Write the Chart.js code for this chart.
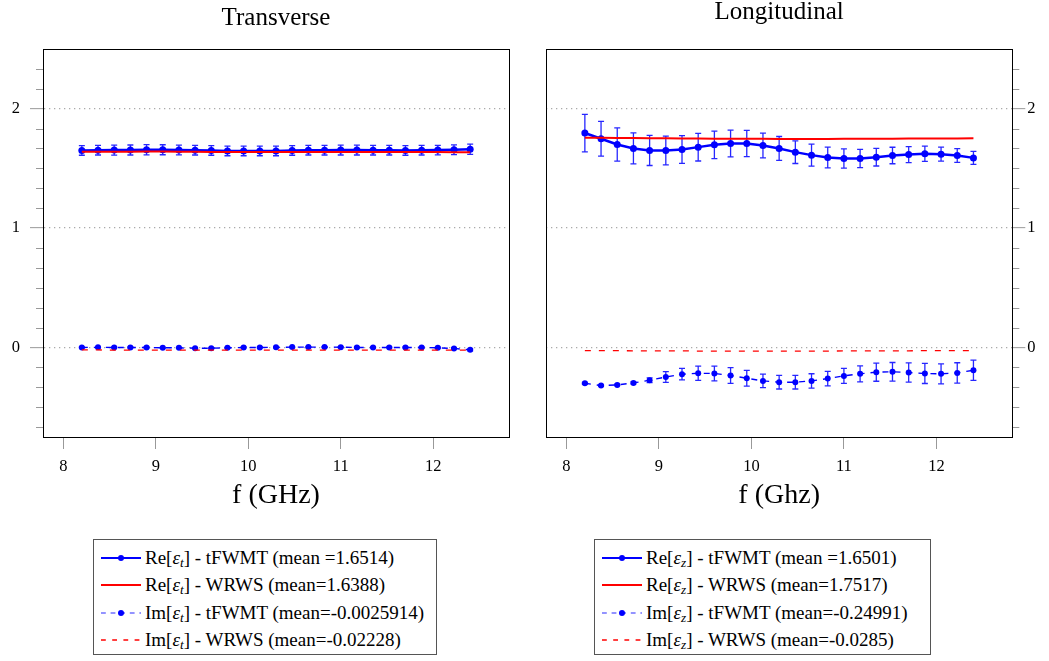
<!DOCTYPE html>
<html>
<head>
<meta charset="utf-8">
<script src="https://cdn.jsdelivr.net/npm/chart.js@4.4.0/dist/chart.umd.min.js"></script>
<style>
  body { margin: 0; background: #fff; width: 1049px; height: 661px; position: relative; overflow: hidden; font-family: "Liberation Serif", "Times New Roman", serif; }
  canvas { position: absolute; top: 0; }
  #left { left: 0; }
  #right { left: 525px; }
  .legend { position: absolute; top: 539px; height: 116px; border: 1px solid #555; box-sizing: border-box; padding-top: 4px; font-size: 19px; color: #000; }
  .legend .row { height: 27.5px; display: flex; align-items: center; padding-left: 6px; white-space: nowrap; }
  .legend svg { margin-right: 3px; flex: none; }
  .legend sub { font-size: 0.7em; vertical-align: -0.25em; line-height: 0; }
  #legLeft { left: 93px; width: 344px; }
  #legRight { left: 594px; width: 337px; }
</style>
</head>
<body>
<canvas id="left" width="525" height="520"></canvas>
<canvas id="right" width="524" height="520"></canvas>
<div class="legend" id="legLeft"></div>
<div class="legend" id="legRight"></div>
<script>
// frequency points (GHz)
const freq = [8.2, 8.375, 8.55, 8.725, 8.9, 9.075, 9.25, 9.425, 9.6, 9.775, 9.95, 10.125, 10.3,
              10.475, 10.65, 10.825, 11.0, 11.175, 11.35, 11.525, 11.7, 11.875, 12.05, 12.225, 12.4];

// transverse
const reT_tfwmt = [1.650, 1.652, 1.653, 1.654, 1.656, 1.656, 1.654, 1.652, 1.650, 1.646, 1.646, 1.646, 1.646,
                   1.650, 1.652, 1.652, 1.653, 1.653, 1.652, 1.652, 1.650, 1.652, 1.653, 1.656, 1.661];
const reT_tfwmtErr = [0.040, 0.040, 0.042, 0.042, 0.043, 0.042, 0.041, 0.040, 0.040, 0.040, 0.040, 0.040, 0.040,
                      0.040, 0.040, 0.040, 0.041, 0.041, 0.040, 0.040, 0.040, 0.040, 0.040, 0.041, 0.043];
const reT_wrws = [1.640, 1.640, 1.640, 1.640, 1.641, 1.641, 1.640, 1.639, 1.638, 1.638, 1.637, 1.637, 1.637,
                  1.638, 1.638, 1.638, 1.638, 1.638, 1.638, 1.638, 1.638, 1.637, 1.637, 1.636, 1.635];
const imT_tfwmt = [0.000, 0.001, 0.000, 0.000, 0.000, -0.003, -0.003, -0.006, -0.006, -0.003, 0.000, 0.000, 0.001,
                   0.003, 0.003, 0.003, 0.002, 0.000, 0.000, 0.000, 0.000, 0.000, -0.003, -0.008, -0.020];
const imT_tfwmtErr = [0.004, 0.004, 0.004, 0.004, 0.004, 0.004, 0.004, 0.005, 0.005, 0.004, 0.004, 0.004, 0.004,
                      0.004, 0.004, 0.004, 0.004, 0.004, 0.004, 0.004, 0.004, 0.005, 0.005, 0.006, 0.008];
const imT_wrws = [-0.021, -0.021, -0.022, -0.022, -0.022, -0.022, -0.023, -0.023, -0.023, -0.023, -0.022, -0.022, -0.022,
                  -0.022, -0.022, -0.022, -0.022, -0.022, -0.022, -0.022, -0.023, -0.023, -0.023, -0.023, -0.023];

// longitudinal
const reL_tfwmt = [1.796, 1.748, 1.700, 1.667, 1.650, 1.650, 1.658, 1.678, 1.697, 1.709, 1.709, 1.692, 1.667,
                   1.636, 1.611, 1.591, 1.583, 1.583, 1.594, 1.608, 1.616, 1.622, 1.619, 1.608, 1.588];
const reL_tfwmtErr = [0.157, 0.146, 0.139, 0.130, 0.126, 0.120, 0.116, 0.116, 0.115, 0.112, 0.110, 0.104, 0.100,
                      0.095, 0.092, 0.087, 0.081, 0.077, 0.074, 0.069, 0.067, 0.064, 0.059, 0.057, 0.055];
const reL_wrws = [1.757, 1.756, 1.755, 1.754, 1.753, 1.752, 1.751, 1.750, 1.749, 1.749, 1.748, 1.748, 1.747,
                  1.747, 1.747, 1.747, 1.748, 1.748, 1.748, 1.749, 1.750, 1.750, 1.751, 1.751, 1.752];
const imL_tfwmt = [-0.300, -0.319, -0.314, -0.297, -0.275, -0.247, -0.224, -0.216, -0.218, -0.235, -0.258, -0.280, -0.291,
                   -0.291, -0.280, -0.261, -0.238, -0.221, -0.207, -0.204, -0.210, -0.218, -0.221, -0.213, -0.191];
const imL_tfwmtErr = [0.008, 0.006, 0.006, 0.008, 0.020, 0.045, 0.048, 0.059, 0.062, 0.066, 0.066, 0.057, 0.057,
                      0.057, 0.060, 0.060, 0.063, 0.067, 0.076, 0.078, 0.081, 0.084, 0.084, 0.085, 0.085];
const imL_wrws = [-0.026, -0.027, -0.027, -0.028, -0.028, -0.029, -0.029, -0.030, -0.030, -0.030, -0.031, -0.031, -0.031,
                  -0.031, -0.030, -0.030, -0.029, -0.029, -0.028, -0.028, -0.028, -0.027, -0.027, -0.026, -0.026];

const xTicks = [8, 9, 10, 11, 12];
const yTicks = [0, 1, 2];
const yMinorTicks = [-4, -3, -2, -1, 1, 2, 3, 4, 5, 7, 8, 9, 10, 11, 13, 14].map(k => k / 6);

const labelsT = ['Re[ε_t] - tFWMT (mean =1.6514)', 'Re[ε_t] - WRWS (mean=1.6388)',
                 'Im[ε_t] - tFWMT (mean=-0.0025914)', 'Im[ε_t] - WRWS (mean=-0.02228)'];
const labelsL = ['Re[ε_z] - tFWMT (mean =1.6501)', 'Re[ε_z] - WRWS (mean=1.7517)',
                 'Im[ε_z] - tFWMT (mean=-0.24991)', 'Im[ε_z] - WRWS (mean=-0.0285)'];

const FONT = '"Liberation Serif", "Times New Roman", serif';
const pts = ys => ys.map((y, i) => ({ x: freq[i], y: y }));

// vertical error bars with caps
const errorBarPlugin = {
  id: 'errorBars',
  afterDatasetDraw(chart, args) {
    const ds = chart.data.datasets[args.index];
    if (!ds.errorBars) return;
    const { ctx, scales: { x, y } } = chart;
    ctx.save();
    ctx.strokeStyle = 'rgba(0,0,255,0.85)';
    ctx.lineWidth = 1.3;
    ds.data.forEach((p, i) => {
      const e = ds.errorBars[i];
      const px = x.getPixelForValue(p.x);
      const top = y.getPixelForValue(p.y + e);
      const bot = y.getPixelForValue(p.y - e);
      ctx.beginPath();
      ctx.moveTo(px, top); ctx.lineTo(px, bot);
      ctx.moveTo(px - 3, top); ctx.lineTo(px + 3, top);
      ctx.moveTo(px - 3, bot); ctx.lineTo(px + 3, bot);
      ctx.stroke();
    });
    ctx.restore();
  }
};

// box around plot, minor y ticks, panel title
const framePlugin = {
  id: 'frame',
  afterDraw(chart, args, opts) {
    const { ctx, chartArea: a, scales: { y } } = chart;
    ctx.save();
    ctx.strokeStyle = '#999';
    ctx.lineWidth = 1;
    yMinorTicks.forEach(v => {
      const py = Math.round(y.getPixelForValue(v)) + 0.5;
      ctx.beginPath();
      if (opts.side === 'left') { ctx.moveTo(a.left - 7, py); ctx.lineTo(a.left, py); }
      else { ctx.moveTo(a.right, py); ctx.lineTo(a.right + 7, py); }
      ctx.stroke();
    });
    ctx.strokeStyle = '#000';
    ctx.strokeRect(Math.round(a.left) + 0.5, Math.round(a.top) + 0.5, Math.round(a.width), Math.round(a.height));
    ctx.fillStyle = '#000';
    ctx.font = '25px ' + FONT;
    ctx.textAlign = 'center';
    ctx.textBaseline = 'middle';
    ctx.fillText(opts.text, (a.left + a.right) / 2, opts.y);
    ctx.restore();
  }
};

function makeChart(id, p) {
  const datasets = [
    { label: p.labels[0], data: pts(p.reTf), errorBars: p.reTfErr, borderColor: '#0000ff', borderWidth: 2.5,
      pointRadius: 3.5, pointBackgroundColor: '#0000ff', pointBorderWidth: 0, order: 3 },
    { label: p.labels[1], data: pts(p.reW), borderColor: '#ff0000', borderWidth: 2, pointRadius: 0, order: 2 },
    { label: p.labels[2], data: pts(p.imTf), errorBars: p.imTfErr, borderColor: '#0000ff', borderWidth: 1.4,
      borderDash: [6, 6], pointRadius: 3, pointBackgroundColor: '#0000ff', pointBorderWidth: 0, order: 1,
      legendColor: '#7070ff' },
    { label: p.labels[3], data: pts(p.imW), borderColor: '#ff0000', borderWidth: 1.3, borderDash: [6, 8],
      pointRadius: 0, order: 0 }
  ];
  return new Chart(document.getElementById(id), {
    type: 'line',
    data: { datasets },
    plugins: [errorBarPlugin, framePlugin],
    options: {
      responsive: false,
      animation: false,
      layout: { padding: { top: 49, left: p.padLeft, right: p.padRight, bottom: 0 } },
      plugins: {
        legend: { display: false },
        tooltip: { enabled: false },
        frame: { side: p.side, text: p.title, y: p.titleY }
      },
      scales: {
        x: {
          type: 'linear', min: 7.78, max: 12.82,
          afterBuildTicks: s => { s.ticks = xTicks.map(v => ({ value: v })); },
          afterFit: s => { s.height = 83; },
          grid: { drawOnChartArea: false, drawTicks: true, tickLength: 12, tickColor: '#999', tickWidth: 1 },
          border: { display: true, color: '#000', width: 1 },
          ticks: { color: '#000', font: { family: FONT, size: 16.5 }, padding: 8, maxRotation: 0 },
          title: { display: true, text: p.xTitle, color: '#000', font: { family: FONT, size: 28, lineHeight: 1.2 },
                   padding: { top: 0, bottom: 8 } }
        },
        y: {
          position: p.side, min: -0.75, max: 2.5,
          afterBuildTicks: s => { s.ticks = yTicks.map(v => ({ value: v })); },
          afterFit: s => { s.width = p.yWidth; },
          grid: { color: '#aaa', lineWidth: 1.3, drawTicks: true, tickLength: 13, tickColor: '#999', tickWidth: 1 },
          border: { display: true, color: '#000', width: 1, dash: [1.3, 3.7] },
          ticks: { color: '#000', font: { family: FONT, size: 16.5 }, padding: p.yPad }
        }
      }
    }
  });
}

function buildLegend(chart, el) {
  chart.data.datasets.forEach(ds => {
    const row = document.createElement('div');
    row.className = 'row';
    const dash = (ds.borderDash || []).map(d => d * 0.8).join(',');
    const dot = ds.pointRadius ? `<circle cx="21" cy="6" r="3" fill="${ds.pointBackgroundColor}"/>` : '';
    const text = ds.label.replace(/ε_(\w)/, '<i>ε</i><sub><i>$1</i></sub>');
    row.innerHTML = `<svg width="42" height="12"><line x1="1" y1="6" x2="41" y2="6" stroke="${ds.legendColor || ds.borderColor}" ` +
      `stroke-width="${Math.min(ds.borderWidth, 2)}" stroke-dasharray="${dash}"/>${dot}</svg><span>${text}</span>`;
    el.appendChild(row);
  });
}

const leftChart = makeChart('left', {
  labels: labelsT, reTf: reT_tfwmt, reTfErr: reT_tfwmtErr, reW: reT_wrws,
  imTf: imT_tfwmt, imTfErr: imT_tfwmtErr, imW: imT_wrws,
  side: 'left', padLeft: 0, padRight: 16, yWidth: 43, yPad: 10,
  title: 'Transverse', titleY: 18, xTitle: 'f (GHz)'
});
const rightChart = makeChart('right', {
  labels: labelsL, reTf: reL_tfwmt, reTfErr: reL_tfwmtErr, reW: reL_wrws,
  imTf: imL_tfwmt, imTfErr: imL_tfwmtErr, imW: imL_wrws,
  side: 'right', padLeft: 21, padRight: 0, yWidth: 36.7, yPad: 2,
  title: 'Longitudinal', titleY: 12, xTitle: 'f (Ghz)'
});

buildLegend(leftChart, document.getElementById('legLeft'));
buildLegend(rightChart, document.getElementById('legRight'));
</script>
</body>
</html>
